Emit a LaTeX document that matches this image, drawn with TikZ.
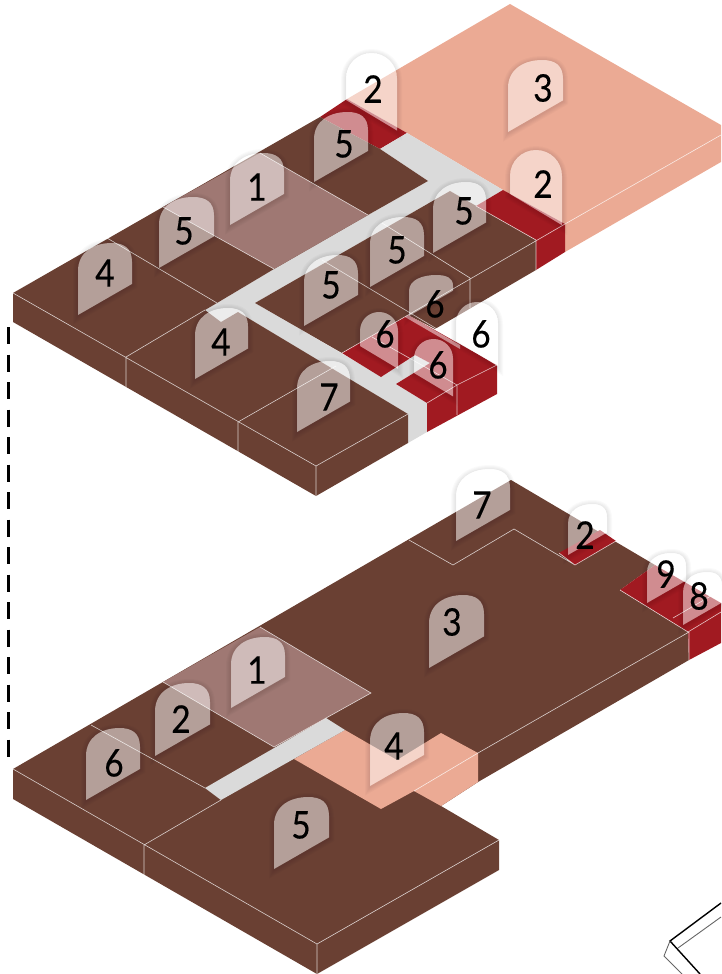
\documentclass[tikz,border=0pt]{standalone}
\usepackage{fontspec}
\setmainfont{Lato}
\newfontfamily\zahlfont[FakeBold=.35,FakeStretch=.88]{Lato}
\usepackage{tikz}

% marke with a rising base, then with a falling base
\newcommand{\bogenA}[4]{(#1,#2) -- (#1,{#2-.61*#4}) .. controls (#1,{#2-.88*#4}) and ({#1+.3*#3},{#2-#4}) .. ({#1+.62*#3},{#2-#4}) .. controls ({#1+.85*#3},{#2-#4}) and ({#1+#3},{#2-.93*#4}) .. ({#1+#3},{#2-.74*#4}) -- ({#1+#3},{#2-.575*#3}) -- cycle}
\newcommand{\bogenB}[4]{(#1,#2) -- (#1,{#2-#4+.5*#3}) .. controls (#1,{#2-#4+.22*#3}) and ({#1+.22*#3},{#2-#4}) .. ({#1+.5*#3},{#2-#4}) .. controls ({#1+.78*#3},{#2-#4}) and ({#1+#3},{#2-#4+.22*#3}) .. ({#1+#3},{#2-#4+.5*#3}) -- ({#1+#3},{#2+.6*#3}) -- cycle}
\newcommand{\zeichnemarke}[1]{%
  \begin{scope}[even odd rule]
    \clip (-10,-10) rectangle (740,990) #1;
    \foreach \s in {1,...,5}
      \draw[schatten, yshift=-1pt, line width={\s*2pt}] #1;
  \end{scope}
  \fill[marke] #1;}
\newcommand{\markeA}[8]{\zeichnemarke{\bogenA{#2}{#3}{#4}{#5}}\node at (#6,#7) (#1) [ziffer] {#8};}
\newcommand{\markeB}[8]{\zeichnemarke{\bogenB{#2}{#3}{#4}{#5}}\node at (#6,#7) (#1) [ziffer] {#8};}

\begin{document}
\begin{tikzpicture}[
    x=1pt, y=-1pt,
    boden/.style={fill=bodenfarbe},
    terrasse/.style={fill=terrassenfarbe},
    kern/.style={fill=kernfarbe},
    flur/.style={fill=flurfarbe},
    halle/.style={fill=hallenfarbe},
    kante/.style={draw=white, opacity=.75, line width=.6pt},
    marke/.style={fill=white, opacity=.5},
    schatten/.style={draw=black, opacity=.02},
    ziffer/.style={inner sep=0pt, font=\zahlfont\fontsize{38}{38}\selectfont, text=black}
    ]
  \definecolor{bodenfarbe}{HTML}{6A4033}
  \definecolor{terrassenfarbe}{HTML}{EBAA94}
  \definecolor{kernfarbe}{HTML}{A11A21}
  \definecolor{flurfarbe}{HTML}{DADADA}
  \definecolor{hallenfarbe}{HTML}{9F7873}
  \useasboundingbox (0,0) rectangle (721,974);

  % upper floor
  \path[terrasse] (510,4) -- (721,125) -- (721,162) -- (565,252) -- (565,224) -- (503,190) -- (407,133) -- (347,99) -- cycle;
  \path[kern] (347,99) -- (407,133) -- (380,149) -- (320,117) -- cycle;
  \path[flur] (380,149) -- (407,133) -- (503,190) -- (476,206) -- (450,191) -- (255,303) -- (427,403) -- (427,432) -- (408,443) -- (408,414) -- (238,312) -- (221,322) -- (205,310) -- (217,303) -- (274,269) -- (368,215) -- (428,181) -- cycle;
  \path[flur] (381,377) -- (415,355) -- (430,363) -- (396,384) -- (427,403) -- cycle;
  \path[boden] (13,293) -- (320,117) -- (380,149) -- (428,181) -- (368,215) -- (274,269) -- (217,303) -- (205,310) -- (221,322) -- (238,312) -- (408,414) -- (408,443) -- (316,496) -- (13,322) -- cycle;
  \path[boden] (255,303) -- (450,191) -- (536,240) -- (536,270) -- (435,329) -- (408,315) -- (342,353) -- cycle;
  \path[kern] (503,190) -- (565,224) -- (565,252) -- (536,270) -- (536,240) -- (476,206) -- cycle;
  \path[kern] (408,315) -- (342,353) -- (381,377) -- (415,355) -- (430,363) -- (396,384) -- (427,403) -- (427,432) -- (497,394) -- (497,365) -- cycle;
  \path[marke] (408,315) -- (460,345) -- (460,349) -- (405,317) -- cycle;
  \path[halle] (260,153) -- (368,215) -- (274,269) -- (163,207) -- cycle;

  \path[kante] (13,293) -- (316,466) -- (408,414)
    (316,466) -- (316,496) (126,357) -- (126,387) (238,422) -- (238,452)
    (107,238) -- (217,303) (205,310) -- (126,357) (238,422) -- (336,366)
    (163,207) -- (274,269) (260,153) -- (368,215)
    (322,260) -- (497,365) (382,223) -- (470,278) (476,206) -- (536,240)
    (565,224) -- (408,315) -- (342,353) (470,278) -- (470,308) (536,240) -- (536,270)
    (565,224) -- (721,135) (372,337) -- (457,385) -- (497,365)
    (457,385) -- (427,403) (457,385) -- (457,415);

  % lower floor
  \path[boden] (13,769) -- (511,480) -- (655,565) -- (620,590) -- (688,632) -- (689,660) -- (478,782) -- (441,806) -- (499,840) -- (499,870) -- (317,974) -- (13,799) -- cycle;
  \path[kern] (559,553) -- (575,565) -- (616,541) -- (600,530) -- cycle;
  \path[kern] (620,590) -- (655,565) -- (721,603) -- (721,643) -- (689,660) -- (688,632) -- cycle;
  \path[terrasse] (345,730) -- (397,760) -- (441,733) -- (478,753) -- (478,782) -- (441,806) -- (414,791) -- (381,809) -- (294,759) -- cycle;
  \path[flur] (326,718) -- (345,730) -- (221,800) -- (205,788) -- cycle;
  \path[halle] (260,627) -- (371,693) -- (274,747) -- (163,682) -- cycle;

  \path[kante] (13,769) -- (317,944) -- (499,840) (317,944) -- (317,974) (144,845) -- (144,875)
    (91,725) -- (205,788) (221,800) -- (144,845)
    (163,682) -- (274,747) -- (371,693) -- (260,627)
    (689,632) -- (478,753) -- (414,791) (689,632) -- (689,660)
    (409,540) -- (453,565) -- (514,529) -- (575,565) -- (616,541)
    (559,553) -- (575,565) (620,590) -- (688,632) (673,618) -- (721,590) (688,632) -- (721,612);

  % dashed link and the corner at the foot
  \draw[black, line width=3pt, dash pattern=on 17pt off 10.5pt] (8,327) -- (8,765);
  \draw[black, line width=1.4pt] (721,903) -- (670,941) -- (700,974);
  \draw[black!60, line width=.9pt] (721,917) -- (678,948) (670,941) -- (664,956) -- (682,974);

  % upper floor
  \markeB{obenzwei}{346}{100}{51}{47}{373}{89}{2}
  \markeB{obenzweib}{510}{194}{52}{44}{543}{184}{2}
  \markeA{obendrei}{508}{132}{55}{72}{543}{88}{3}
  \markeA{obenfuenf}{314}{182}{54}{70}{344}{144}{5}
  \markeA{obeneins}{230}{225}{54}{72}{257}{187}{1}
  \markeA{obenfuenfb}{159}{268}{55}{71}{184}{231}{5}
  \markeA{obenvier}{78}{315}{54}{72}{105}{273}{4}
  \markeA{obenfuenfc}{433}{253}{53}{71}{464}{211}{5}
  \markeA{obenfuenfd}{370}{287}{54}{70}{397}{250}{5}
  \markeA{obenfuenfe}{304}{326}{54}{71}{331}{285}{5}
  \markeA{obensechs}{409}{316}{44}{41}{435}{304}{6}
  \markeB{obensechsb}{456}{341}{42}{39}{481}{334}{6}
  \markeB{obensechsc}{360}{346}{38}{34}{385}{334}{6}
  \markeB{obensechsd}{414}{373}{39}{34}{438}{365}{6}
  \markeA{obenvierb}{195}{379}{53}{71}{221}{342}{4}
  \markeA{obensieben}{297}{432}{53}{71}{329}{397}{7}

  % lower floor
  \markeA{untensieben}{456}{541}{54}{72}{482}{505}{7}
  \markeA{untenzwei}{568}{555}{39}{51}{585}{535}{2}
  \markeA{untenneun}{647}{603}{39}{50}{666}{574}{9}
  \markeA{untenacht}{683}{625}{39}{53}{699}{596}{8}
  \markeA{untendrei}{429}{668}{55}{73}{452}{622}{3}
  \markeA{unteneins}{231}{708}{54}{71}{257}{670}{1}
  \markeA{untenzweib}{155}{756}{55}{73}{181}{719}{2}
  \markeA{untensechs}{86}{800}{54}{72}{114}{763}{6}
  \markeA{untenvier}{370}{786}{54}{73}{394}{746}{4}
  \markeA{untenfuenf}{274}{869}{55}{72}{301}{825}{5}
\end{tikzpicture}
\end{document}
